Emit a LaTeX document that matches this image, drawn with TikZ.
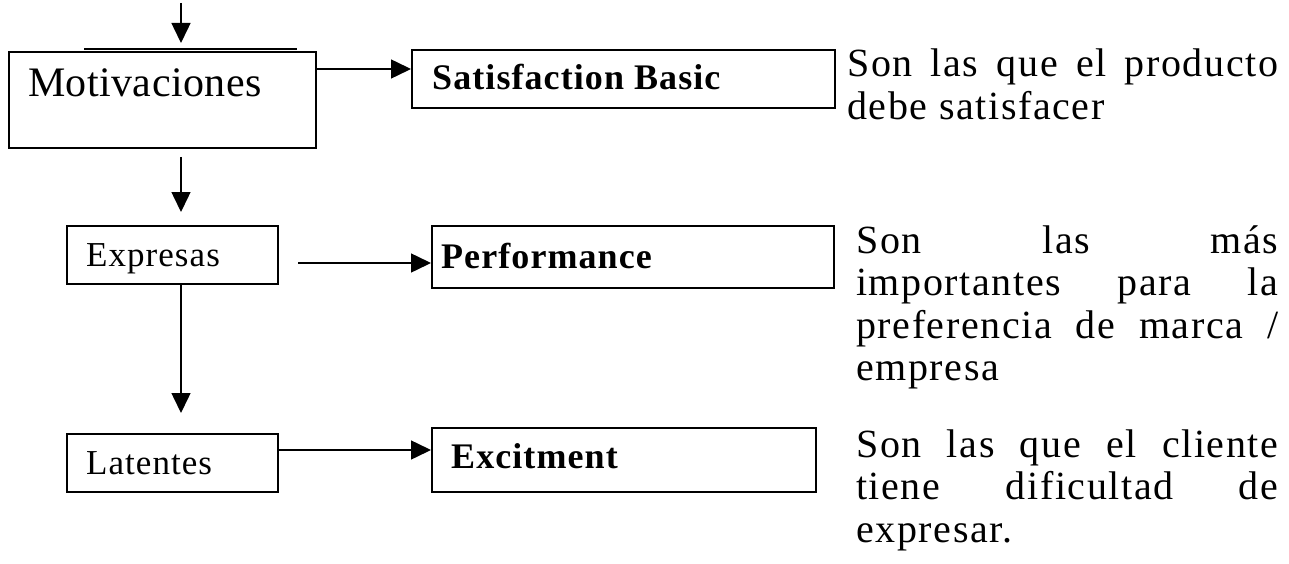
\documentclass[tikz,border=0pt]{standalone}
\usepackage{fontspec}
\setmainfont{Liberation Serif}
\newfontfamily\sptext[LetterSpace=4]{Liberation Serif}
\newfontfamily\motfont[LetterSpace=1]{Liberation Serif}
\newfontfamily\boxfont[LetterSpace=3]{Liberation Serif}
\newfontfamily\boldfont[LetterSpace=3]{Liberation Serif}
\usetikzlibrary{arrows.meta,calc}
\begin{document}
\begin{tikzpicture}[x=1pt,y=-1pt,
  box/.style={draw,line width=2pt,inner sep=0pt,anchor=north west},
  lbl/.style={inner sep=0pt,anchor=base west},
  arr/.style={line width=1.5pt,-{Triangle[length=20pt,width=19pt]}},
  desc/.style={inner sep=0pt,anchor=base west,align=justify,font=\sptext\fontsize{40}{42.5}\selectfont}]
\useasboundingbox (0,0) rectangle (1289,564);
% boxes
\node[box,minimum width=307pt,minimum height=96pt] (mot) at (8,51) {};
\node[box,minimum width=423pt,minimum height=58pt] (sat) at (411,49) {};
\node[box,minimum width=211pt,minimum height=58pt] (exp) at (66,225) {};
\node[box,minimum width=402pt,minimum height=62pt] (perf) at (431,225) {};
\node[box,minimum width=211pt,minimum height=58pt] (lat) at (66,433) {};
\node[box,minimum width=384pt,minimum height=64pt] (exc) at (431,427) {};
\draw[line width=2.5pt] ($(mot.north west)+(76,-2)$) -- ($(mot.north west)+(289,-2)$);
% labels
\node[lbl,font=\motfont\fontsize{42}{48}\selectfont] (mott) at (28,97) {Motivaciones};
\node[lbl,font=\boxfont\fontsize{35}{40}\selectfont] (expt) at (86,266) {Expresas};
\node[lbl,font=\boxfont\fontsize{35}{40}\selectfont] (latt) at (86,474) {Latentes};
\node[lbl,font=\boldfont\bfseries\fontsize{36}{42}\selectfont] (satt) at (432,90) {Satisfaction Basic};
\node[lbl,font=\boldfont\bfseries\fontsize{36}{42}\selectfont] (perft) at (441,268) {Performance};
\node[lbl,font=\boldfont\bfseries\fontsize{36}{42}\selectfont] (exct) at (451,468) {Excitment};
% descriptions
\node[desc,text width=431pt] (d1) at (847,77) {\makebox[\linewidth][s]{Son las que el producto}\\debe satisfacer};
\node[desc,text width=422pt] (d2) at (856,253) {\makebox[\linewidth][s]{Son las más}\\\makebox[\linewidth][s]{importantes para la}\\\makebox[\linewidth][s]{preferencia de marca /}\\empresa};
\node[desc,text width=422pt] (d3) at (856,457) {\makebox[\linewidth][s]{Son las que el cliente}\\\makebox[\linewidth][s]{tiene dificultad de}\\expresar.};
% arrows
\coordinate (top) at (181,3);
\coordinate (y1) at (0,69);
\coordinate (y2) at (0,263);
\coordinate (y3) at (0,450);
\draw[arr,shorten >=8pt] (top) -- (top |- mot.north);
\draw[arr,shorten <=8pt,shorten >=13pt] (mot.south -| top) -- (exp.north -| top);
\draw[arr,shorten >=20pt] (exp.south -| top) -- (lat.north -| top);
\draw[arr] (mot.east |- y1) -- (sat.west |- y1);
\draw[arr,shorten <=19pt] (exp.east |- y2) -- (perf.west |- y2);
\draw[arr] (lat.east |- y3) -- (exc.west |- y3);
\end{tikzpicture}
\end{document}
